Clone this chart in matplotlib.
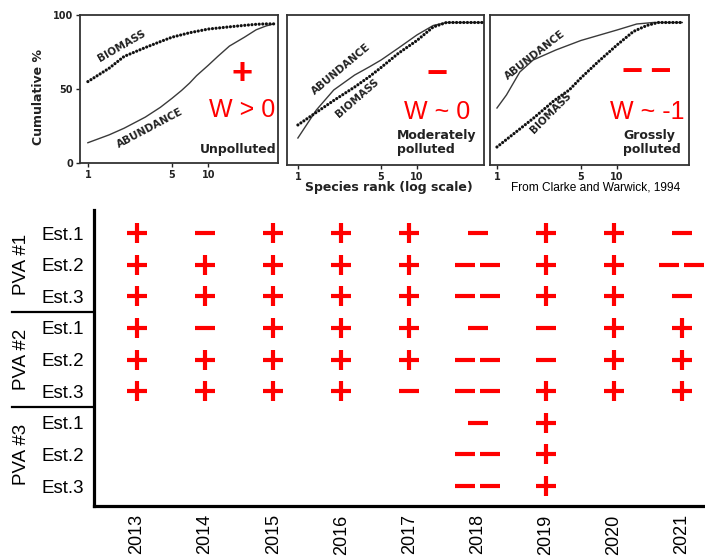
import numpy as np
import matplotlib
matplotlib.use("Agg")
import matplotlib.pyplot as plt
from matplotlib.ticker import NullLocator
from matplotlib.transforms import ScaledTranslation, blended_transform_factory

# ---------------- data: ABC curves (Clarke & Warwick, 1994) ----------------
ranks_p1 = [1, 1.5, 2, 3, 4, 5, 6, 7, 8, 10, 12, 15, 20, 25, 30, 35]
abund_p1 = [13.7, 19, 23.5, 31, 37.6, 43.7, 49, 54, 59, 66, 72, 79, 85, 90, 92.5, 94]
ranks_p1b = [1, 1.5, 2, 3, 4, 5, 7, 10, 15, 20, 25, 30, 35]
biom_p1 = [55, 64, 72, 78, 82, 85, 88, 90.5, 92, 93, 93.7, 94, 94]

ranks_p2 = [1, 1.43, 2, 3, 4, 5, 7, 10, 13.7, 17.7, 25, 30, 36]
abund_p2 = [18, 36.7, 50, 60, 65.5, 70, 78, 86.7, 93, 95, 95, 95, 95]
ranks_p2b = [1, 2, 3, 4, 5, 7, 10, 13.7, 17.7, 25, 30, 36]
biom_p2 = [26.7, 43, 52, 59, 65, 74.5, 83, 92, 95, 95, 95, 95]

ranks_p3 = [1, 1.2, 1.55, 2, 3.1, 5, 10, 14.6, 20, 25, 30, 35]
abund_p3 = [38, 46.7, 62, 70, 76.7, 83, 90, 94, 95, 95, 95, 95]
ranks_p3b = [1, 2, 3, 4, 5, 7, 10, 13.7, 17.7, 22, 25, 30, 35]
biom_p3 = [12, 31, 43, 50, 58, 69, 80, 89, 93, 95, 95, 95, 95]

# ---------------- data: W-statistic sign table ----------------
years = ["2013", "2014", "2015", "2016", "2017", "2018", "2019", "2020", "2021"]
row_labels = ["Est.1", "Est.2", "Est.3"] * 3
groups = ["PVA #1", "PVA #2", "PVA #3"]
# 1 = "+", 0 = "−", -1 = "− −", None = empty
pva1 = [[1, 0, 1, 1, 1, 0, 1, 1, 0],
        [1, 1, 1, 1, 1, -1, 1, 1, -1],
        [1, 1, 1, 1, 1, -1, 1, 1, 0]]
pva2 = [[1, 0, 1, 1, 1, 0, 0, 1, 1],
        [1, 1, 1, 1, 1, -1, 0, 1, 1],
        [1, 1, 1, 1, 0, -1, 1, 1, 1]]
pva3 = [[None, None, None, None, None, 0, 1, None, None],
        [None, None, None, None, None, -1, 1, None, None],
        [None, None, None, None, None, -1, 1, None, None]]

W, H = 705, 556
fig = plt.figure(figsize=(W / 100, H / 100), dpi=100)


def px_axes(l, t, r, b):
    return fig.add_axes([l / W, 1 - b / H, (r - l) / W, (b - t) / H])


RED = "#ff0000"
INK = "#222222"
SCAN = dict(family="DejaVu Sans", fontweight="bold", color=INK)

panels = [
    (px_axes(80, 15, 278, 163), (0.86, 38), ranks_p1, abund_p1, ranks_p1b, biom_p1),
    (px_axes(287, 15, 484, 165), (0.81, 36.6), ranks_p2, abund_p2, ranks_p2b, biom_p2),
    (px_axes(490, 15, 689, 165), (0.875, 39.8), ranks_p3, abund_p3, ranks_p3b, biom_p3),
]
for i, (ax, xl, ra, ab, rb, bi) in enumerate(panels):
    ax.plot(ra, ab, color="#3a3a3a", lw=1.0)
    ax.plot(rb, bi, color="#111111", lw=2.3, linestyle=(0, (0.01, 1.12)),
            dash_capstyle="round")
    ax.set_xscale("log")
    ax.set_xlim(*xl)
    ax.set_ylim(0, 100)
    ax.set_xticks([1, 5, 10])
    ax.set_xticklabels(["1", "5", "10"], fontsize=7, **SCAN)
    ax.xaxis.set_minor_locator(NullLocator())
    ax.tick_params(axis="x", direction="out", length=3, width=1, pad=2, colors=INK)
    if i == 0:
        ax.set_yticks([0, 50, 100])
        ax.set_yticklabels(["0", "50", "100"], fontsize=7, **SCAN)
        ax.tick_params(axis="y", direction="out", length=3, width=1, pad=2, colors=INK)
    else:
        ax.set_yticks([])
    for s in ax.spines.values():
        s.set_color("#333333")
        s.set_linewidth(1.3)

ax1, ax2, ax3 = [p[0] for p in panels]

# panel 1 annotations
ax1.text(1.92, 79, "BIOMASS", rotation=30, ha="center", va="center", fontsize=7.5, **SCAN)
ax1.text(3.3, 23.5, "ABUNDANCE", rotation=28, ha="center", va="center", fontsize=7.5, **SCAN)
ax1.text(19.2, 59.5, "+", ha="center", va="center", fontsize=26, fontweight="bold",
         color=RED, family="Liberation Sans")
ax1.text(19.2, 35.5, "W > 0", ha="center", va="center", fontsize=18, color=RED,
         family="Liberation Sans")
ax1.text(0.99, 0.09, "Unpolluted", transform=ax1.transAxes, ha="right", va="center",
         fontsize=9, **SCAN)

# panel 2 annotations
ax2.text(2.3, 64, "ABUNDANCE", rotation=40, ha="center", va="center", fontsize=7.5, **SCAN)
ax2.text(3.15, 44.5, "BIOMASS", rotation=41, ha="center", va="center", fontsize=7.5, **SCAN)
ax2.text(14.7, 60, "\u2212", ha="center", va="center", fontsize=26, fontweight="bold",
         color=RED, family="Liberation Sans")
ax2.text(14.7, 35, "W ~ 0", ha="center", va="center", fontsize=18, color=RED,
         family="Liberation Sans")
ax2.text(6.8, 15, "Moderately\npolluted", ha="left", va="center", fontsize=9,
         linespacing=1.15, **SCAN)

# panel 3 annotations
ax3.text(2.07, 73, "ABUNDANCE", rotation=38, ha="center", va="center", fontsize=7.5, **SCAN)
ax3.text(2.8, 35, "BIOMASS", rotation=45, ha="center", va="center", fontsize=7.5, **SCAN)
ax3.text(17.8, 62, "\u2212\u2009\u2212", ha="center", va="center", fontsize=26,
         fontweight="bold", color=RED, family=["Liberation Sans", "DejaVu Sans"])
ax3.text(17.8, 35, "W ~ -1", ha="center", va="center", fontsize=18, color=RED,
         family="Liberation Sans")
ax3.text(11.2, 15, "Grossly\npolluted", ha="left", va="center", fontsize=9,
         linespacing=1.15, **SCAN)

fig.text(38 / W, 1 - 97 / H, "Cumulative %", rotation=90, ha="center", va="center",
         fontsize=9, **SCAN)
fig.text(389 / W, 1 - 188 / H, "Species rank (log scale)", ha="center", va="center",
         fontsize=9, **SCAN)
fig.text(596 / W, 1 - 188 / H, "From Clarke and Warwick, 1994", ha="center", va="center",
         fontsize=8.6, family="Liberation Sans", color="black")

# ---------------- table ----------------
axt = px_axes(94, 210, 705, 506)
ncol, nrow = len(years), len(row_labels)
axt.set_xlim(-0.631, 8.338)
axt.set_ylim(8.63, -0.73)
for s in ["top", "right"]:
    axt.spines[s].set_visible(False)
for s in ["left", "bottom"]:
    axt.spines[s].set_linewidth(2.3)
    axt.spines[s].set_color("black")
axt.set_xticks(range(ncol))
axt.set_xticklabels(years, rotation=90, fontsize=13, family="Liberation Sans")
axt.set_yticks(range(nrow))
axt.set_yticklabels(row_labels, fontsize=13.5, family="Liberation Sans")
axt.tick_params(axis="x", length=0, pad=6)
axt.tick_params(axis="y", length=0, pad=7)

grid = pva1 + pva2 + pva3
plus_x, plus_y, minus_x, minus_y, dbl_x, dbl_y = [], [], [], [], [], []
for r, row in enumerate(grid):
    for c, v in enumerate(row):
        if v is None:
            continue
        if v == 1:
            plus_x.append(c); plus_y.append(r)
        elif v == 0:
            minus_x.append(c); minus_y.append(r)
        else:
            dbl_x.append(c); dbl_y.append(r)

mk = dict(ls="none", color=RED, mew=3.0, clip_on=False)
axt.plot(plus_x, plus_y, marker="+", ms=14.5, **mk)
axt.plot(minus_x, minus_y, marker="_", ms=14.5, **mk)
for dx in (-12.5, 12.5):
    off = axt.transData + ScaledTranslation(dx / 100, 0, fig.dpi_scale_trans)
    axt.plot(dbl_x, dbl_y, marker="_", ms=14.0, transform=off, **mk)

# group separators and labels
bt = blended_transform_factory(fig.transFigure, axt.transData)
for ysep in (2.5, 5.5):
    axt.plot([12 / W, 94 / W], [ysep, ysep], color="black", lw=1.6, transform=bt,
             clip_on=False)
for g, yc in zip(groups, (1, 4, 7)):
    axt.text(22 / W, yc, g, rotation=90, ha="center", va="center", fontsize=13.5,
             family="Liberation Sans", transform=bt)

fig.savefig("out.png", dpi=100)
